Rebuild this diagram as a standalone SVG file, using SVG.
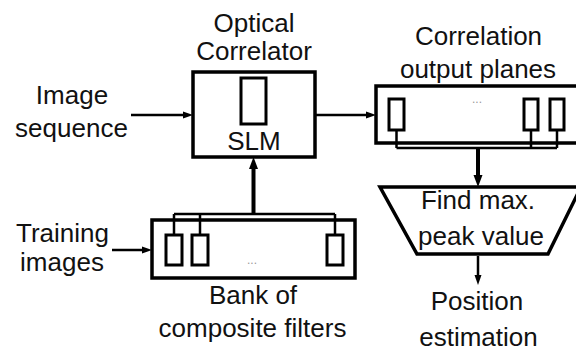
<svg xmlns="http://www.w3.org/2000/svg" width="576" height="351" viewBox="0 0 576 351">
  <style>
    .lbl { font-family: "Liberation Sans", Arial, sans-serif; font-size: 26px; fill: #111; text-anchor: middle; }
    .dots { font-family: "Liberation Sans", Arial, sans-serif; font-size: 12px; fill: #999; text-anchor: middle; }
    .box { fill: none; stroke: #000; stroke-width: 3.5; }
    .cell { fill: #fff; stroke: #000; stroke-width: 3; }
    .bus { fill: none; stroke: #000; stroke-width: 2.5; }
    .thin { fill: none; stroke: #000; stroke-width: 2.5; }
    .thick { fill: none; stroke: #000; stroke-width: 4; }
  </style>
  <defs>
    <marker id="arrS" viewBox="0 0 10 8" markerWidth="10" markerHeight="8" refX="4" refY="4" orient="auto" markerUnits="userSpaceOnUse">
      <path d="M0,0.5 L10,4 L0,7.5 Z" fill="#000"/>
    </marker>
    <marker id="arrL" viewBox="0 0 12 10" markerWidth="12" markerHeight="10" refX="5" refY="5" orient="auto" markerUnits="userSpaceOnUse">
      <path d="M0,0.5 L12,5 L0,9.5 Z" fill="#000"/>
    </marker>
  </defs>
  <rect width="576" height="351" fill="#fff"/>

  <g id="image-sequence">
    <text class="lbl" x="72" y="104">Image</text>
    <text class="lbl" x="71.5" y="137">sequence</text>
  </g>

  <g id="optical-correlator">
    <text class="lbl" x="254" y="32">Optical</text>
    <text class="lbl" x="254" y="60">Correlator</text>
    <rect class="box" x="193" y="72" width="122" height="85"/>
    <rect class="cell" x="241" y="78" width="25" height="46"/>
    <text class="lbl" x="254" y="150">SLM</text>
  </g>

  <g id="correlation-output-planes">
    <text class="lbl" x="478.5" y="45">Correlation</text>
    <text class="lbl" x="478" y="78">output planes</text>
    <rect class="box" x="376" y="86" width="210" height="57"/>
    <rect class="cell" x="389" y="99" width="15" height="31"/>
    <rect class="cell" x="524" y="99" width="14" height="31"/>
    <rect class="cell" x="550" y="99" width="14" height="31"/>
    <text class="dots" x="477" y="103">...</text>
    <path class="bus" d="M396.5,130 V148 M531,130 V148 M557,130 V148 M396.5,148 H557"/>
  </g>

  <g id="find-max-peak">
    <polygon class="box" points="380,187 581,187 548,254 417,254"/>
    <text class="lbl" x="478" y="209">Find max.</text>
    <text class="lbl" x="481" y="245">peak value</text>
  </g>

  <g id="position-estimation">
    <text class="lbl" x="477" y="310">Position</text>
    <text class="lbl" x="478.5" y="346">estimation</text>
  </g>

  <g id="training-images">
    <text class="lbl" x="62.5" y="242">Training</text>
    <text class="lbl" x="62" y="271">images</text>
  </g>

  <g id="bank-of-composite-filters">
    <rect class="box" x="152" y="220" width="203" height="58"/>
    <rect class="cell" x="166" y="235" width="16" height="30"/>
    <rect class="cell" x="192" y="235" width="16" height="30"/>
    <rect class="cell" x="327" y="235" width="16" height="30"/>
    <text class="dots" x="252" y="264">...</text>
    <path class="bus" d="M174,235 V214 M200,235 V214 M335,235 V214 M174,214 H335"/>
    <text class="lbl" x="253" y="304">Bank of</text>
    <text class="lbl" x="252.5" y="337">composite filters</text>
  </g>

  <g id="connectors">
    <line class="thin" x1="131" y1="115" x2="187" y2="115" marker-end="url(#arrS)"/>
    <line class="thin" x1="316" y1="115" x2="370" y2="115" marker-end="url(#arrS)"/>
    <line class="thick" x1="253.5" y1="214" x2="253.5" y2="164" marker-end="url(#arrL)"/>
    <line class="thick" x1="478" y1="148" x2="478" y2="180" marker-end="url(#arrL)"/>
    <line class="thin" x1="478" y1="256" x2="478" y2="279" marker-end="url(#arrS)"/>
    <line class="thin" x1="112" y1="250" x2="146" y2="250" marker-end="url(#arrS)"/>
  </g>
</svg>
